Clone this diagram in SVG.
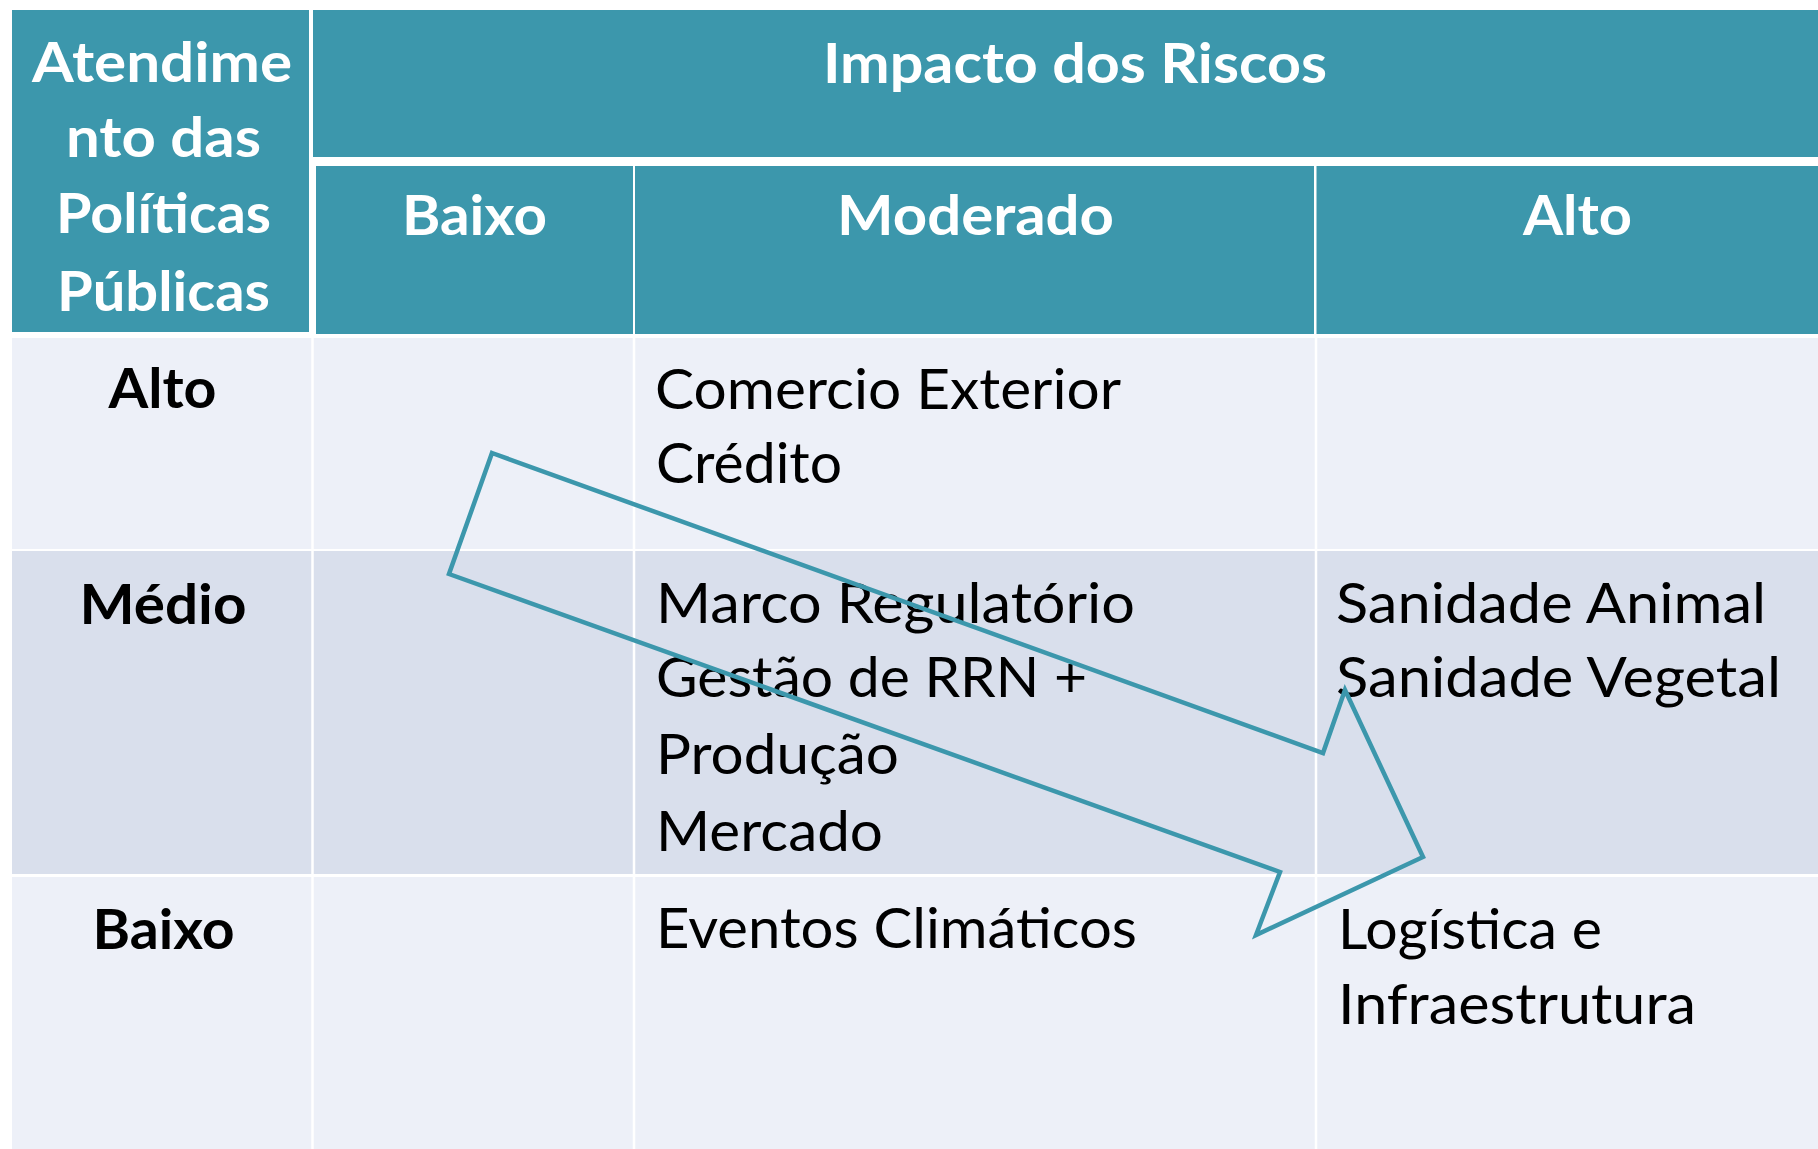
<svg xmlns="http://www.w3.org/2000/svg" width="1818" height="1149" viewBox="0 0 1818 1149">
<style>
.hd{fill:#3C97AC}
.r1{fill:#EDF0F8}
.r2{fill:#D9DFEC}
.sep{stroke:#FFFFFF;stroke-width:2.5}
.ht{font-family:Lato,"Open Sans","Liberation Sans",sans-serif;font-weight:700;font-size:56px;fill:#FFFFFF;text-anchor:middle}
.bl{font-family:Lato,"Open Sans","Liberation Sans",sans-serif;font-weight:700;font-size:56px;fill:#000000;text-anchor:middle}
.bt{font-family:Lato,"Open Sans","Liberation Sans",sans-serif;font-weight:400;font-size:56px;fill:#000000}
.arr{fill:none;stroke:#3C97AC;stroke-width:4.5;stroke-linejoin:miter}
</style>
<rect x="0" y="0" width="1818" height="1149" fill="#FFFFFF"/>
<g id="header-left">
<rect class="hd" x="12" y="10" width="297" height="322"/>
<text class="ht" x="162" y="82" textLength="260" lengthAdjust="spacingAndGlyphs">Atendime</text>
<text class="ht" x="163.5" y="157" textLength="195" lengthAdjust="spacingAndGlyphs">nto das</text>
<text class="ht" x="163.5" y="233" textLength="215" lengthAdjust="spacingAndGlyphs">Políticas</text>
<text class="ht" x="163.5" y="311" textLength="213" lengthAdjust="spacingAndGlyphs">Públicas</text>
</g>
<g id="header-impacto">
<rect class="hd" x="313" y="10" width="1527" height="147"/>
<text class="ht" x="1075" y="83" textLength="504" lengthAdjust="spacingAndGlyphs">Impacto dos Riscos</text>
</g>
<g id="header-baixo">
<rect class="hd" x="316" y="166" width="317" height="168"/>
<text class="ht" x="474.5" y="235" textLength="145" lengthAdjust="spacingAndGlyphs">Baixo</text>
</g>
<g id="header-moderado">
<rect class="hd" x="635" y="166" width="679" height="168"/>
<text class="ht" x="975.5" y="235" textLength="277" lengthAdjust="spacingAndGlyphs">Moderado</text>
</g>
<g id="header-alto">
<rect class="hd" x="1316.5" y="166" width="524" height="168"/>
<text class="ht" x="1577.5" y="235" textLength="109" lengthAdjust="spacingAndGlyphs">Alto</text>
</g>
<g id="row-alto">
<rect class="r1" x="12" y="338" width="1828" height="211"/>
<text class="bl" x="162.5" y="408" textLength="108" lengthAdjust="spacingAndGlyphs">Alto</text>
</g>
<g id="row-medio">
<rect class="r2" x="12" y="551" width="1828" height="323"/>
<text class="bl" x="163" y="624" textLength="167" lengthAdjust="spacingAndGlyphs">Médio</text>
</g>
<g id="row-baixo">
<rect class="r1" x="12" y="877" width="1828" height="272"/>
<text class="bl" x="163.5" y="949" textLength="142" lengthAdjust="spacingAndGlyphs">Baixo</text>
</g>
<g id="grid">
<line class="sep" x1="312.5" y1="336" x2="312.5" y2="1149"/>
<line class="sep" x1="634" y1="336" x2="634" y2="1149"/>
<line class="sep" x1="1316" y1="336" x2="1316" y2="1149"/>
</g>
<g id="cell-alto-moderado">
<text class="bt" x="655" y="409" textLength="466" lengthAdjust="spacingAndGlyphs">Comercio Exterior</text>
<text class="bt" x="656" y="483" textLength="186" lengthAdjust="spacingAndGlyphs">Crédito</text>
</g>
<g id="cell-medio-moderado">
<text class="bt" x="656" y="623" textLength="479" lengthAdjust="spacingAndGlyphs">Marco Regulatório</text>
<text class="bt" x="656" y="697" textLength="431" lengthAdjust="spacingAndGlyphs">Gestão de RRN +</text>
<text class="bt" x="656" y="774" textLength="243" lengthAdjust="spacingAndGlyphs">Produção</text>
<text class="bt" x="656" y="851" textLength="227" lengthAdjust="spacingAndGlyphs">Mercado</text>
</g>
<g id="cell-medio-alto">
<text class="bt" x="1336" y="623" textLength="430" lengthAdjust="spacingAndGlyphs">Sanidade Animal</text>
<text class="bt" x="1336" y="697" textLength="445" lengthAdjust="spacingAndGlyphs">Sanidade Vegetal</text>
</g>
<g id="cell-baixo-moderado">
<text class="bt" x="656" y="948" textLength="481" lengthAdjust="spacingAndGlyphs">Eventos Climáticos</text>
</g>
<g id="cell-baixo-alto">
<text class="bt" x="1338" y="949" textLength="264" lengthAdjust="spacingAndGlyphs">Logística e</text>
<text class="bt" x="1338" y="1024" textLength="358" lengthAdjust="spacingAndGlyphs">Infraestrutura</text>
</g>
<g id="connectors">
<polygon class="arr" points="492,453 1323,753 1345,690 1423,857 1256,935 1280,872 449,574"/>
</g>
</svg>
